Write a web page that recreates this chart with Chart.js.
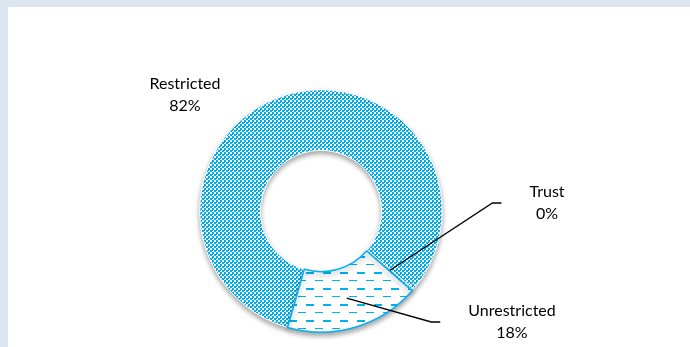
<!DOCTYPE html>
<html>
<head>
<meta charset="utf-8">
<script src="https://cdn.jsdelivr.net/npm/chart.js@4"></script>
<style>
  html, body { margin: 0; padding: 0; }
  body { width: 690px; height: 347px; background: #dce6f1; position: relative; overflow: hidden; }
  #panel { position: absolute; left: 8px; top: 7px; right: 0; bottom: 0; background: #fff; }
  #chart { position: absolute; left: 0; top: 0; }
</style>
</head>
<body>
<div id="panel"></div>
<canvas id="chart" width="690" height="347"></canvas>
<script>
// data
const categories = ['Restricted', 'Trust', 'Unrestricted'];
const shares = [81.7, 0.3, 18.0];

// label placement relative to doughnut centre, and which labels get a leader line
const labelOffsets = [[-136, -116], [226, -8], [191, 111]];
const leaderLines = [false, true, true];

const blue = '#00b0f0';

function makePattern(w, h, draw) {
  const c = document.createElement('canvas');
  c.width = w; c.height = h;
  const g = c.getContext('2d');
  g.fillStyle = '#fff';
  g.fillRect(0, 0, w, h);
  g.fillStyle = blue;
  draw(g);
  return g.createPattern(c, 'repeat');
}

// small checkerboard fill
const checkFill = makePattern(4, 4, g => {
  g.fillRect(0, 0, 2, 2);
  g.fillRect(2, 2, 2, 2);
  g.fillRect(0, 2, 1, 1);
});
// dashed horizontal fill
const dashFill = makePattern(17, 16, g => {
  g.fillRect(0, 0, 8, 2);
  g.fillRect(9, 8, 8, 1);
});

const total = shares.reduce((a, b) => a + b, 0);
const pctLabels = shares.map(v => Math.round(v / total * 100) + '%');

const shadowPlugin = {
  id: 'shadow',
  beforeDatasetsDraw(chart) {
    const ctx = chart.ctx;
    ctx.save();
    ctx.shadowColor = 'rgba(0,0,0,0.35)';
    ctx.shadowBlur = 5;
    ctx.shadowOffsetY = 3;
  },
  afterDatasetsDraw(chart) {
    chart.ctx.restore();
  }
};

const labelPlugin = {
  id: 'sliceLabels',
  afterDraw(chart) {
    const ctx = chart.ctx;
    const arcs = chart.getDatasetMeta(0).data;
    ctx.save();
    ctx.font = '16px Lato, "Liberation Sans", sans-serif';
    ctx.fillStyle = '#000';
    ctx.textAlign = 'center';
    ctx.textBaseline = 'middle';
    arcs.forEach((arc, i) => {
      const p = arc.getProps(['x', 'y', 'startAngle', 'endAngle', 'innerRadius', 'outerRadius'], true);
      const tx = p.x + labelOffsets[i][0];
      const ty = p.y + labelOffsets[i][1];
      const lines = [categories[i], pctLabels[i]];
      ctx.fillText(lines[0], tx, ty - 11);
      ctx.fillText(lines[1], tx, ty + 11);
      if (leaderLines[i]) {
        const mid = (p.startAngle + p.endAngle) / 2;
        const r = (p.innerRadius + p.outerRadius) / 2;
        const ax = p.x + Math.cos(mid) * r;
        const ay = p.y + Math.sin(mid) * r;
        const w = Math.max(...lines.map(s => ctx.measureText(s).width));
        const endX = tx - w / 2 - 28;
        ctx.beginPath();
        ctx.moveTo(ax, ay);
        ctx.lineTo(endX - 9, ty);
        ctx.lineTo(endX, ty);
        ctx.strokeStyle = '#000';
        ctx.lineWidth = 1.3;
        ctx.stroke();
      }
    });
    ctx.restore();
  }
};

new Chart(document.getElementById('chart').getContext('2d'), {
  type: 'doughnut',
  data: {
    labels: categories,
    datasets: [{
      data: shares,
      backgroundColor: [checkFill, checkFill, dashFill],
      borderColor: ['#ffffff', '#ffffff', blue],
      borderWidth: [1, 1, 1.5]
    }]
  },
  options: {
    responsive: false,
    animation: false,
    cutout: '50%',
    rotation: 196,
    layout: { padding: { left: 199, right: 247, top: 89, bottom: 14 } },
    plugins: {
      legend: { display: false },
      tooltip: { enabled: false }
    }
  },
  plugins: [shadowPlugin, labelPlugin]
});
</script>
</body>
</html>
